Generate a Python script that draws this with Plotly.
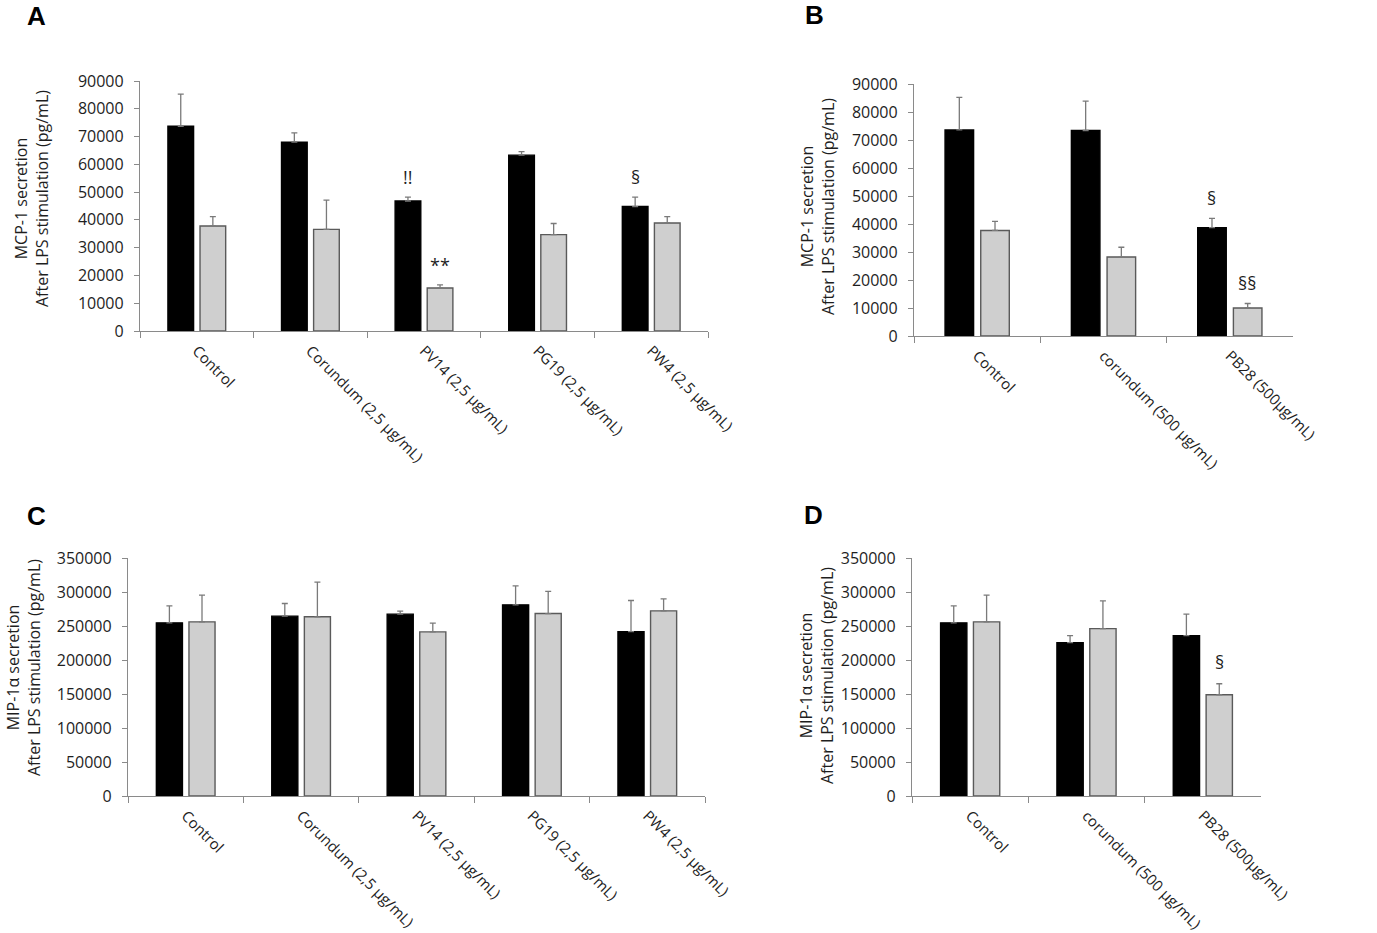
import plotly.graph_objects as go

W, H = 1377, 933

# ---- data ----
cats_a = ["Control", "Corundum (2,5 µg/mL)", "PV14 (2,5 µg/mL)",
          "PG19 (2,5 µg/mL)", "PW4 (2,5 µg/mL)"]
cats_b = ["Control", "corundum (500 µg/mL)", "PB28 (500µg/mL)"]

# A: MCP-1, 2,5 µg/mL particles
mcp_a_black = [73700, 68000, 46800, 63300, 44800]
mcp_a_black_sd = [11600, 3300, 1400, 1300, 3400]
mcp_a_grey = [37800, 36600, 15500, 34700, 38900]
mcp_a_grey_sd = [3400, 10500, 1100, 4000, 2300]

# B: MCP-1, 500 µg/mL particles
mcp_b_black = [73600, 73400, 38700]
mcp_b_black_sd = [11600, 10500, 3300]
mcp_b_grey = [37700, 28200, 10000]
mcp_b_grey_sd = [3250, 3500, 1600]

# C: MIP-1a, 2,5 µg/mL particles
mip_c_black = [254600, 264500, 267400, 281100, 241800]
mip_c_black_sd = [25100, 18600, 4400, 28000, 45700]
mip_c_grey = [256100, 263500, 241300, 268300, 272300]
mip_c_grey_sd = [39300, 51100, 12800, 32500, 17700]

# D: MIP-1a, 500 µg/mL particles
mip_d_black = [254600, 225600, 235900]
mip_d_black_sd = [25100, 10300, 31500]
mip_d_grey = [256100, 246200, 148900]
mip_d_grey_sd = [39300, 40800, 16200]

# significance marks: (category index, series 0=black 1=grey, label)
sig_a = [(2, 0, "!!"), (2, 1, "**"), (4, 0, "§")]
sig_b = [(2, 0, "§"), (2, 1, "§§")]
sig_c = []
sig_d = [(2, 1, "§")]

BARGAP = 0.435
GROUPGAP = 0.2
FONT = "Open Sans"
TXT = "#1e1e1e"
AX = "#8a8a8a"

panels = [
    dict(letter="A", cats=cats_a, black=mcp_a_black, black_sd=mcp_a_black_sd,
         grey=mcp_a_grey, grey_sd=mcp_a_grey_sd, sig=sig_a,
         px=(140, 708), py=(81, 331), ymax=90000, dtick=10000,
         ytitle="MCP-1 secretion", tx=32, ty=199, lx=36, ly=16, pad=0.08),
    dict(letter="B", cats=cats_b, black=mcp_b_black, black_sd=mcp_b_black_sd,
         grey=mcp_b_grey, grey_sd=mcp_b_grey_sd, sig=sig_b,
         px=(914, 1293), py=(84, 336), ymax=90000, dtick=10000,
         ytitle="MCP-1 secretion", tx=817, ty=207, lx=815, ly=15, pad=0.08),
    dict(letter="C", cats=cats_a, black=mip_c_black, black_sd=mip_c_black_sd,
         grey=mip_c_grey, grey_sd=mip_c_grey_sd, sig=sig_c,
         px=(128, 705), py=(558, 796), ymax=350000, dtick=50000,
         ytitle="MIP-1α secretion", tx=23, ty=668, lx=36, ly=516, pad=0.09),
    dict(letter="D", cats=cats_b, black=mip_d_black, black_sd=mip_d_black_sd,
         grey=mip_d_grey, grey_sd=mip_d_grey_sd, sig=sig_d,
         px=(912, 1261), py=(558, 796), ymax=350000, dtick=50000,
         ytitle="MIP-1α secretion", tx=816, ty=676, lx=814, ly=515, pad=0.09),
]


def fx(px):
    return px / W


def fy(py):
    return 1 - py / H


fig = go.Figure()
annotations = []
layout = {}

for i, p in enumerate(panels):
    n = i + 1
    xa = "x" if n == 1 else "x%d" % n
    ya = "y" if n == 1 else "y%d" % n
    series = [
        (p["black"], p["black_sd"], "black", "black"),
        (p["grey"], p["grey_sd"], "#cfcfcf", "#5a5a5a"),
    ]
    for k, (vals, sd, fill, edge) in enumerate(series):
        fig.add_trace(go.Bar(
            x=p["cats"], y=vals, xaxis=xa, yaxis=ya,
            offsetgroup=str(k),
            marker=dict(color=fill, line=dict(color=edge, width=1.4)),
            error_y=dict(type="data", symmetric=False, array=sd,
                         arrayminus=[0] * len(sd), color="#7a7a7a",
                         thickness=1.3, width=3),
            showlegend=False,
        ))

    xkey = "xaxis" if n == 1 else "xaxis%d" % n
    ykey = "yaxis" if n == 1 else "yaxis%d" % n
    layout[xkey] = dict(
        domain=[fx(p["px"][0]), fx(p["px"][1])], anchor=ya, automargin=False,
        type="category", range=[-0.5, len(p["cats"]) - 0.5],
        tickson="boundaries", ticks="outside", ticklen=6, tickcolor=AX,
        showline=True, linecolor=AX, linewidth=1.3, showgrid=False,
        tickangle=45, ticklabelstandoff=4,
        tickfont=dict(family=FONT, size=15, color=TXT),
        fixedrange=True,
    )
    layout[ykey] = dict(
        domain=[fy(p["py"][1]), fy(p["py"][0])], anchor=xa, automargin=False,
        range=[0, p["ymax"]], dtick=p["dtick"], tickformat="d",
        ticks="outside", ticklen=5, tickcolor=AX, ticklabelstandoff=7,
        showline=True, linecolor=AX, linewidth=1.3, showgrid=False,
        zeroline=False, tickfont=dict(family=FONT, size=16, color=TXT),
        fixedrange=True,
    )

    # y-axis title
    annotations.append(dict(
        text=p["ytitle"] + "<br>After LPS stimulation (pg/mL)",
        xref="paper", yref="paper", x=fx(p["tx"]), y=fy(p["ty"]),
        xanchor="center", yanchor="middle", textangle=-90, showarrow=False,
        font=dict(family=FONT, size=16, color=TXT),
    ))
    # panel letter
    annotations.append(dict(
        text="<b>%s</b>" % p["letter"], xref="paper", yref="paper",
        x=fx(p["lx"]), y=fy(p["ly"]), xanchor="center", yanchor="middle",
        showarrow=False, font=dict(family="Liberation Sans", size=26, color="black"),
    ))
    # significance marks above the error bars
    cat_px = (p["px"][1] - p["px"][0]) / len(p["cats"])
    slot = cat_px * (1 - BARGAP) / 2
    for ci, si, label in p["sig"]:
        vals, sd = (p["black"], p["black_sd"]) if si == 0 else (p["grey"], p["grey_sd"])
        annotations.append(dict(
            text=label, xref=xa, yref=ya, x=p["cats"][ci],
            y=vals[ci] + sd[ci] + p["pad"] * p["ymax"],
            xshift=(-slot / 2 if si == 0 else slot / 2),
            xanchor="center", yanchor="middle", showarrow=False,
            font=dict(family=FONT, size=18, color=TXT),
        ))

fig.update_layout(
    template="none",
    width=W, height=H,
    margin=dict(l=0, r=0, t=0, b=0, autoexpand=False),
    paper_bgcolor="white", plot_bgcolor="white",
    barmode="group", bargap=BARGAP, bargroupgap=GROUPGAP,
    annotations=annotations,
    **layout,
)

# drop the default page margin so the figure sits at the window corner
fig.write_html("out.html", config={"displayModeBar": False},
               post_script="document.body.style.margin = '0px';")
